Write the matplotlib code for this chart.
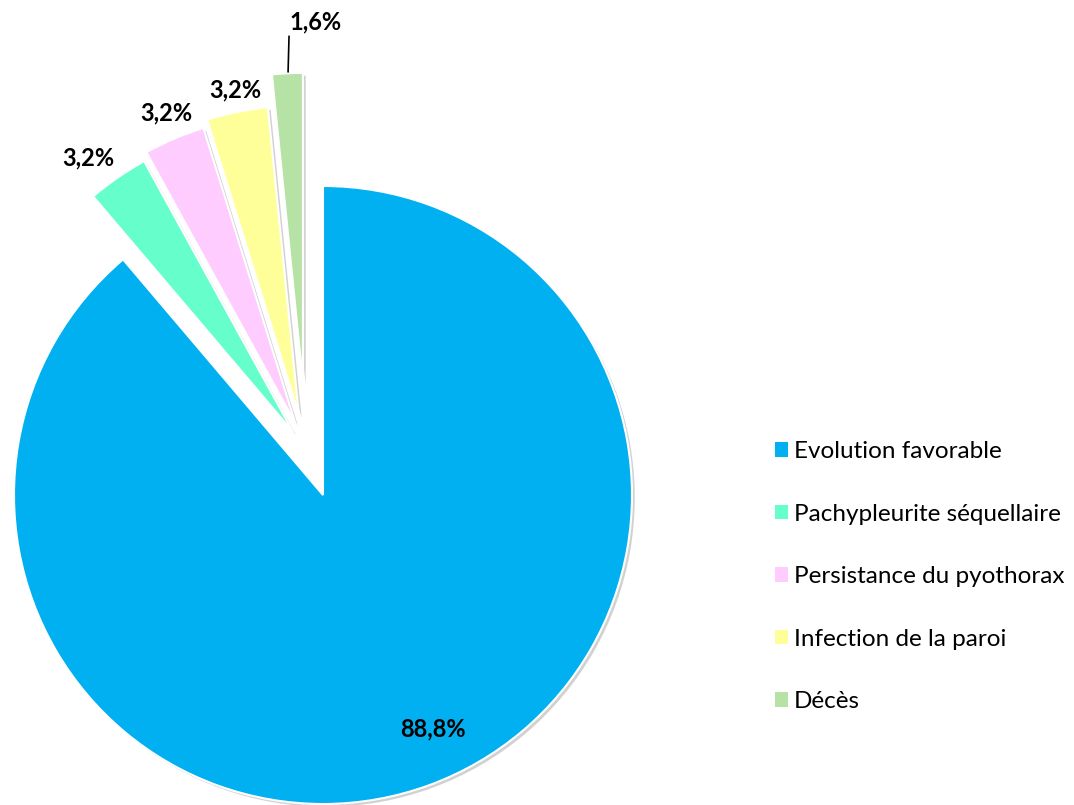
import numpy as np
import matplotlib
matplotlib.use("Agg")
import matplotlib.pyplot as plt
import matplotlib.patheffects as pe
from matplotlib.patches import Patch

plt.rcParams['font.family'] = ['Lato', 'DejaVu Sans']

labels = ["Evolution favorable", "Pachypleurite séquellaire",
          "Persistance du pyothorax", "Infection de la paroi", "Décès"]
values = [88.8, 3.2, 3.2, 3.2, 1.6]
colors = ["#00B0F0", "#66FFCC", "#FFCCFF", "#FFFF99", "#B6E2A6"]

# wedge offsets (in radius units) for the pulled-out slices
offsets = [(0.0, 0.0), (-0.097, 0.204), (-0.09, 0.233), (-0.078, 0.26), (-0.065, 0.366)]
# label positions
label_pos = [(0.356, -0.756), (-0.760, 1.091), (-0.508, 1.236), (-0.285, 1.311), (-0.025, 1.531)]

W, H = 1074, 805
CX, CY, R = 323, 495, 309

fig = plt.figure(figsize=(W / 100, H / 100), dpi=100)
ax = fig.add_axes([0, 0, 1, 1])

wedges, _ = ax.pie(values, colors=colors, startangle=90, counterclock=False,
                   radius=1.0,
                   wedgeprops=dict(edgecolor="white", linewidth=1.5))

shadow = [pe.SimplePatchShadow(offset=(2, -2), shadow_rgbFace="#9a9a9a", alpha=0.45),
          pe.Normal()]
for w, off in zip(wedges, offsets):
    w.set_center(off)
    w.set_path_effects(shadow)

for i, (v, pos) in enumerate(zip(values, label_pos)):
    txt = f"{v:.1f}%".replace(".", ",")
    if i == len(values) - 1:
        ax.annotate(txt, xy=(-0.113, 1.369), xytext=pos, ha="center", va="center",
                    fontsize=17, fontweight="bold",
                    arrowprops=dict(arrowstyle="-", color="black", lw=1.2,
                                    shrinkA=0, shrinkB=0,
                                    relpos=(0.0, 0.2)))
    else:
        ax.text(pos[0], pos[1], txt, ha="center", va="center",
                fontsize=17, fontweight="bold")

ax.set_xlim(-CX / R, (W - CX) / R)
ax.set_ylim(-(H - CY) / R, CY / R)
ax.set_aspect("auto")
ax.axis("off")

handles = [Patch(facecolor=c, edgecolor="none") for c in colors]
fig.legend(handles, labels, loc="upper left", bbox_to_anchor=(775 / W, 1 - 441 / H),
           frameon=False, fontsize=17.5, handlelength=0.53, handleheight=0.53,
           handletextpad=0.25, labelspacing=1.71, borderaxespad=0, borderpad=0)

fig.savefig("out.png", dpi=100)
